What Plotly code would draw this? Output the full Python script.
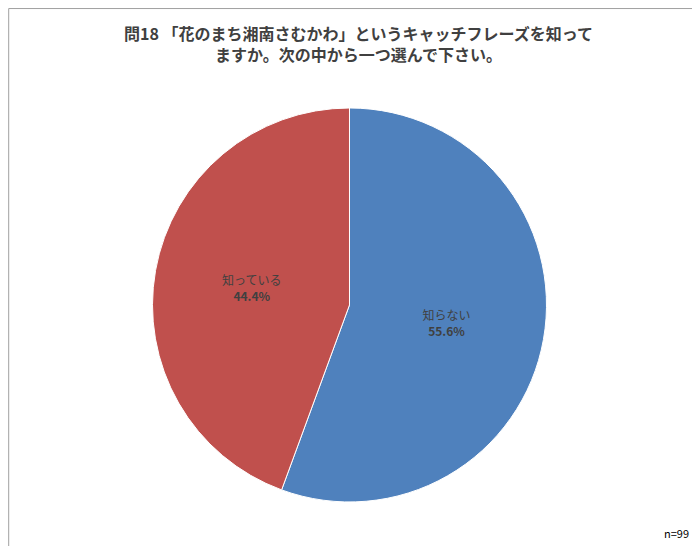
import plotly.graph_objects as go

labels = ["知らない", "知っている"]
values = [55.6, 44.4]
colors = ["#4F81BD", "#C0504D"]

fig = go.Figure(go.Pie(
    labels=labels, values=values, sort=False, direction="clockwise", rotation=0,
    marker=dict(colors=colors, line=dict(color="white", width=1)),
    texttemplate="%{label}<br><b>%{value:.1f}%</b>",
    textposition="inside", insidetextorientation="horizontal",
    textfont=dict(color="#404040", size=12, family="Noto Sans CJK JP"),
    domain=dict(x=[0.2043, 0.7714], y=[0.0953, 0.8169]),
    showlegend=False, hoverinfo="skip",
))
fig.update_layout(
    width=700, height=546, margin=dict(l=0, r=0, t=0, b=0),
    paper_bgcolor="white", font=dict(family="Noto Sans CJK JP"),
    annotations=[
        dict(text="<b>問18 「花のまち湘南さむかわ」というキャッチフレーズを知って<br>ますか。次の中から一つ選んで下さい。</b>",
             x=0.5, y=0.98, xref="paper", yref="paper", xanchor="center", yanchor="top",
             showarrow=False, font=dict(size=16, color="#404040")),
        dict(text="n=99", x=0.975, y=0.02, xref="paper", yref="paper", xanchor="right",
             yanchor="bottom", showarrow=False, font=dict(size=11, color="#000000")),
    ],
    shapes=[dict(type="rect", xref="paper", yref="paper", x0=0.001, y0=0.001, x1=0.999, y1=0.999,
                 line=dict(color="#A0A0A0", width=1))],
)
fig.write_html("out.html")
